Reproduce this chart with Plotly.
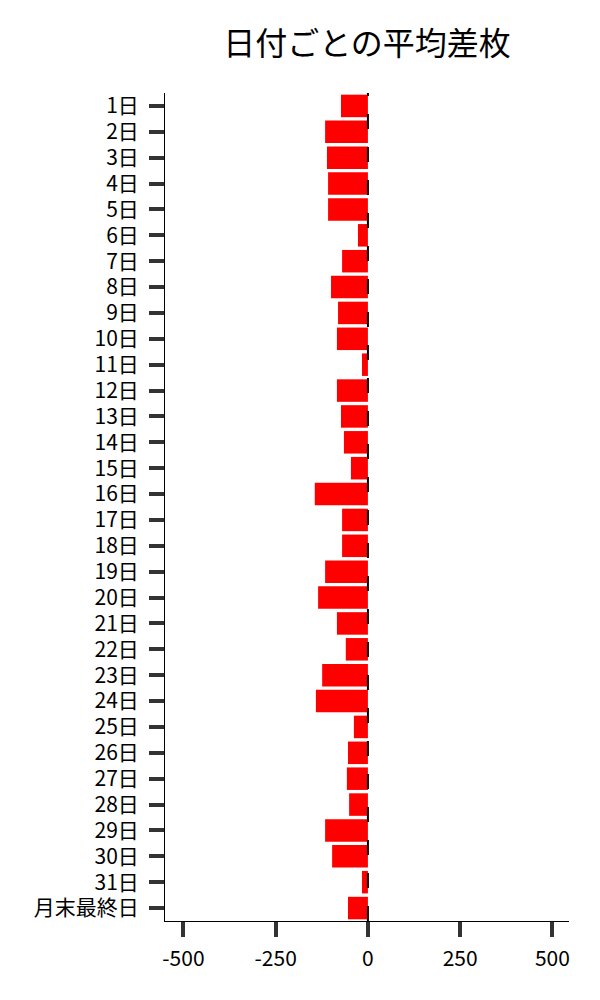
import plotly.graph_objects as go

# data
days = [f"{d}日" for d in range(1, 32)] + ["月末最終日"]
avg_diff = [
    -73, -116, -111, -108, -108, -27, -70, -100, -81, -84,
    -16, -84, -73, -65, -46, -144, -70, -70, -116, -135,
    -84, -60, -124, -141, -38, -54, -57, -51, -116, -97,
    -16, -54,
]
x_ticks = [-500, -250, 0, 250, 500]

font_family = "Noto Sans CJK JP"

fig = go.Figure()

fig.add_trace(go.Bar(
    x=avg_diff,
    y=days,
    orientation="h",
    marker=dict(color="#ff0000", line=dict(width=0)),
    showlegend=False,
))

# dashed zero line
fig.add_shape(
    type="line",
    xref="x", yref="paper",
    x0=0, x1=0, y0=0, y1=1,
    line=dict(color="black", width=2, dash="15px,18px"),
    layer="above",
)

fig.update_layout(
    width=600,
    height=1000,
    margin=dict(l=157, r=39, t=85, b=87),
    paper_bgcolor="white",
    plot_bgcolor="white",
    bargap=0.13,
    font=dict(family=font_family, size=21, color="black"),
    title=dict(
        text="日付ごとの平均差枚",
        x=0.5, xref="paper", xanchor="center",
        y=1 - 36 / 1000, yref="container", yanchor="middle",
        font=dict(family=font_family, size=32, color="black"),
    ),
    xaxis=dict(
        range=[-550, 545],
        tickmode="array",
        tickvals=x_ticks,
        ticktext=[str(v) for v in x_ticks],
        ticks="outside",
        ticklen=15,
        tickwidth=4,
        tickcolor="#333333",
        showline=True,
        linecolor="black",
        linewidth=1,
        showgrid=False,
        zeroline=False,
        ticklabelstandoff=4,
        tickfont=dict(size=21),
    ),
    yaxis=dict(
        type="category",
        categoryorder="array",
        categoryarray=days,
        range=[len(days) - 0.5, -0.5],
        ticks="outside",
        ticklen=15,
        tickwidth=4,
        tickcolor="#333333",
        showline=True,
        linecolor="black",
        linewidth=1,
        showgrid=False,
        zeroline=False,
        ticklabelstandoff=6,
        tickfont=dict(size=21),
    ),
)

fig.write_html("out.html")
